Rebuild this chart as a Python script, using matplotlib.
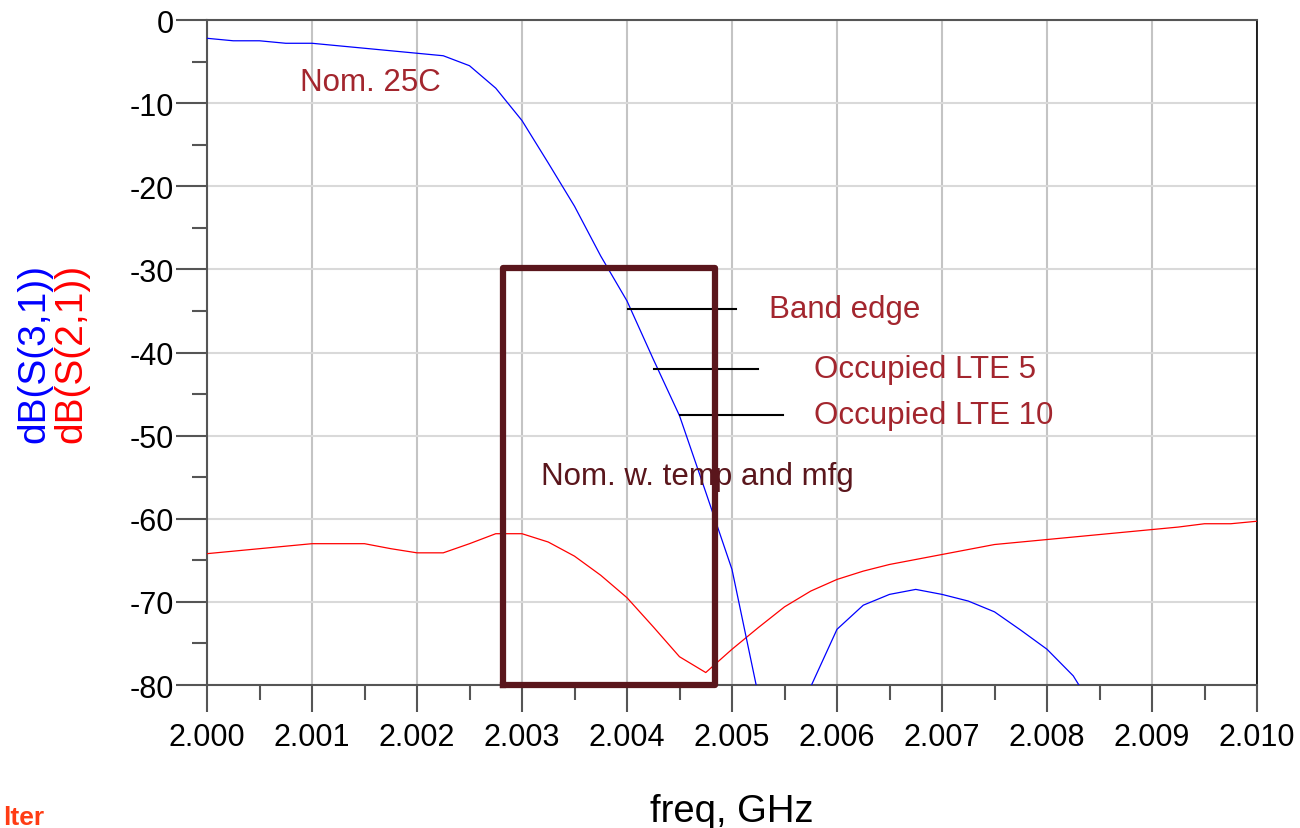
import numpy as np
import matplotlib
matplotlib.use("Agg")
import matplotlib.pyplot as plt
from matplotlib.ticker import MultipleLocator, FormatStrFormatter

plt.rcParams['font.family'] = ['Liberation Sans', 'DejaVu Sans']

# frequency grid, GHz (0.25 MHz steps)
freq = [2.000 + 0.00025 * i for i in range(41)]

# dB(S(3,1)) - blue, nan where below the plot
s31 = [-2.2, -2.5, -2.5, -2.8, -2.8, -3.1, -3.4, -3.7, -4.0, -4.3,
       -5.5, -8.2, -12.1, -17.2, -22.4, -28.4, -33.8, -40.8, -47.6, -56.8,
       -66.1, -81.2, np.nan, -80.2, -73.3, -70.4, -69.1, -68.5, -69.1, -69.9,
       -71.2, -73.4, -75.7, -78.9, -84.0, np.nan, np.nan, np.nan, np.nan, np.nan,
       np.nan]

# dB(S(2,1)) - red
s21 = [-64.2, -63.9, -63.6, -63.3, -63.0, -63.0, -63.0, -63.6, -64.1, -64.1,
       -63.0, -61.8, -61.8, -62.8, -64.5, -66.8, -69.5, -73.0, -76.6, -78.5,
       -75.7, -73.1, -70.6, -68.7, -67.3, -66.3, -65.5, -64.9, -64.3, -63.7,
       -63.1, -62.8, -62.5, -62.2, -61.9, -61.6, -61.3, -61.0, -60.6, -60.6,
       -60.3]

# spec box (nominal with temp and mfg)
box_f = [2.00282, 2.00484]
box_db = [-29.8, -80.0]

# marker lines: label, start freq, end freq, level, text freq
marks = [("Band edge", 2.00401, 2.00504, -34.8, 2.00535),
         ("Occupied LTE 5", 2.00426, 2.00525, -42.0, 2.00578),
         ("Occupied LTE 10", 2.00450, 2.00549, -47.5, 2.00578)]

fig = plt.figure(figsize=(13.0, 8.29), dpi=100)
ax = fig.add_axes([207/1300, 1-686/829, 1050/1300, 665/829])

ax.plot(freq, s21, color='#ff0000', lw=0.9, zorder=3)
ax.plot(freq, s31, color='#0000ff', lw=0.9, zorder=3)

ax.plot([box_f[0], box_f[0], box_f[1], box_f[1], box_f[0]],
        [box_db[1], box_db[0], box_db[0], box_db[1], box_db[1]],
        color='#5a161c', lw=4.5, solid_joinstyle='round', zorder=5,
        clip_on=False)

for lab, f0, f1, lev, ftxt in marks:
    ax.plot([f0, f1], [lev, lev], color='black', lw=1.5, zorder=4)
    ax.text(ftxt, lev, lab, color='#a3262e', fontsize=22.5, va='center',
            ha='left', zorder=6)

ax.text(2.000886, -7.5, "Nom. 25C", color='#a3262e', fontsize=22.5,
        va='center', ha='left')
ax.text(2.00318, -54.8, "Nom. w. temp and mfg", color='#5a161c',
        fontsize=22.5, va='center', ha='left', zorder=6)

ax.set_xlim(2.000, 2.010)
ax.set_ylim(-80, 0)
ax.xaxis.set_major_locator(MultipleLocator(0.001))
ax.xaxis.set_minor_locator(MultipleLocator(0.0005))
ax.xaxis.set_major_formatter(FormatStrFormatter('%.3f'))
ax.yaxis.set_major_locator(MultipleLocator(10))
ax.yaxis.set_minor_locator(MultipleLocator(5))
ax.yaxis.set_major_formatter(FormatStrFormatter('%d'))

ax.tick_params(axis='both', which='both', direction='out', color='#555555',
               width=1.5, labelsize=22)
ax.tick_params(axis='y', which='major', length=22, pad=2)
ax.tick_params(axis='y', which='minor', length=11)
ax.tick_params(axis='x', which='major', length=19.5, pad=7)
ax.tick_params(axis='x', which='minor', length=11)

ax.grid(True, axis='x', which='major', color='#c4c4c4', lw=1.5, zorder=0)
ax.grid(True, axis='y', which='major', color='#d9d9d9', lw=1.5, zorder=0)

for side in ['left', 'bottom', 'top']:
    ax.spines[side].set_color('#555555')
    ax.spines[side].set_linewidth(1.5)
ax.spines['right'].set_color('black')
ax.spines['right'].set_linewidth(1.2)

ax.set_xlabel("freq, GHz", fontsize=27.5, labelpad=30)

fig.text(34/1300, 1-353.5/829, "dB(S(3,1))", color='#0000ff', fontsize=28,
         rotation=90, ha='center', va='center')
fig.text(71/1300, 1-353.5/829, "dB(S(2,1))", color='#ff0000', fontsize=28,
         rotation=90, ha='center', va='center')

fig.text(3/1300, 1-806/829, "lter", color='#ff3c14', fontsize=19,
         fontweight='bold', ha='left', va='top')

fig.savefig("out.png", dpi=100)
